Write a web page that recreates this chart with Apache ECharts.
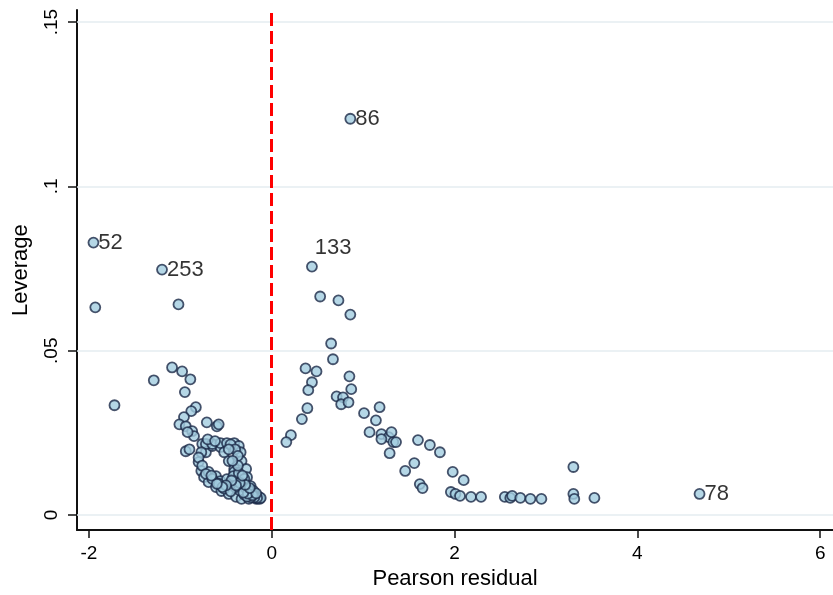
<!DOCTYPE html>
<html>
<head>
<meta charset="utf-8">
<script src="https://cdn.jsdelivr.net/npm/echarts@6/dist/echarts.min.js"></script>
<style>html,body{margin:0;padding:0;background:#fff}#c{width:833px;height:595px}</style>
</head>
<body>
<div id="c"></div>
<script>
// Pearson residuals (x) and leverage (y) for unlabeled observations
var pearsonResidual = [
  -1.93,-1.02,-1.72,-1.29,-1.09,-0.98,-0.89,-0.95,-0.83,-0.88,-0.96,-1.01,-0.94,-0.87,-0.85,-0.71,-0.60,
  -0.94,-0.76,-0.72,-0.65,-0.56,-0.58,-0.92,-0.90,
  -0.72,-0.65,-0.56,-0.49,-0.41,-0.36,-0.77,-0.80,-0.77,-0.74,-0.69,-0.61,-0.55,-0.47,-0.39,-0.33,-0.25,-0.17,-0.14,
  -0.34,-0.33,-0.28,-0.27,-0.23,-0.20,-0.52,-0.47,-0.41,-0.38,-0.34,-0.31,-0.69,-0.61,-0.56,-0.49,-0.41,
  -0.25,-0.20,-0.30,-0.35,-0.40,-0.45,-0.22,-0.28,-0.33,-0.38,-0.42,-0.36,-0.30,-0.25,-0.18,-0.15,-0.13,
  -0.70,-0.62,-0.45,-0.40,-0.37,-0.80,-0.76,-0.72,-0.65,-0.58,-0.52,-0.45,
  -0.12,-0.16,-0.19,-0.23,-0.27,-0.21,-0.26,-0.31,-0.17,-0.24,-0.29,-0.35,-0.39,-0.32,-0.44,-0.50,-0.54,-0.60,-0.66,-0.47,-0.37,-0.43,
  0.53,0.73,0.86,0.65,0.67,0.37,0.49,0.44,0.40,0.85,0.87,0.71,0.78,0.76,0.84,0.39,0.33,0.21,0.16,
  1.01,1.18,1.14,1.07,1.20,1.28,1.20,1.33,1.29,1.31,1.36,
  1.60,1.73,1.84,1.56,1.46,1.62,1.65,1.98,2.10,1.96,2.01,2.06,2.18,2.29,
  2.55,2.61,2.63,2.72,2.83,2.95,3.30,3.30,3.31,3.53
];
var leverage = [
  0.0632,0.0641,0.0334,0.0410,0.0449,0.0437,0.0413,0.0374,0.0328,0.0316,0.0298,0.0276,0.0270,0.0255,0.0240,0.0282,0.0270,
  0.0194,0.0216,0.0191,0.0210,0.0207,0.0276,0.0252,0.0200,
  0.0216,0.0216,0.0219,0.0219,0.0219,0.0210,0.0191,0.0161,0.0134,0.0115,0.0100,0.0085,0.0073,0.0064,0.0055,0.0049,0.0049,0.0049,0.0055,
  0.0191,0.0164,0.0140,0.0115,0.0088,0.0073,0.0191,0.0164,0.0140,0.0115,0.0088,0.0070,0.0131,0.0118,0.0103,0.0109,0.0131,
  0.0060,0.0058,0.0062,0.0075,0.0085,0.0095,0.0065,0.0080,0.0100,0.0105,0.0118,0.0128,0.0110,0.0075,0.0058,0.0050,0.0049,
  0.0230,0.0225,0.0215,0.0200,0.0180,0.0175,0.0150,0.0125,0.0110,0.0095,0.0080,0.0072,
  0.0052,0.0052,0.0054,0.0054,0.0056,0.0060,0.0065,0.0068,0.0066,0.0082,0.0092,0.0098,0.0090,0.0120,0.0105,0.0090,0.0085,0.0095,0.0120,0.0200,0.0150,0.0165,
  0.0665,0.0653,0.0610,0.0522,0.0474,0.0446,0.0437,0.0404,0.0380,0.0422,0.0383,0.0361,0.0358,0.0337,0.0343,0.0325,0.0292,0.0243,0.0222,
  0.0310,0.0328,0.0288,0.0252,0.0246,0.0237,0.0231,0.0222,0.0188,0.0252,0.0222,
  0.0228,0.0213,0.0191,0.0158,0.0134,0.0094,0.0082,0.0131,0.0106,0.0070,0.0064,0.0058,0.0055,0.0055,
  0.0055,0.0052,0.0058,0.0052,0.0049,0.0049,0.0146,0.0064,0.0049,0.0052
];
// labelled observations
var labelIds = ['86','52','253','133','78'];
var labelResidual = [0.86,-1.95,-1.20,0.44,4.68];
var labelLeverage = [0.1206,0.0829,0.0747,0.0756,0.0064];
// ticks
var xTickValues = [-2,0,2,4,6];
var xTickLabels = ['-2','0','2','4','6'];
var yTickValues = [0,0.05,0.1,0.15];
var yTickLabels = ['0','.05','.1','.15'];
var refLineX = 0;

var FONT = 'Liberation Sans, Arial, sans-serif';
var pts = pearsonResidual.map(function(x,i){return [x, leverage[i]];});
var lab = labelResidual.map(function(x,i){
  var d = {value:[x, labelLeverage[i]], name: labelIds[i]};
  if (labelIds[i] === '133') d.label = {position:'right', offset:[-2,-19]};
  return d;
});
var markerStyle = {color:'#a2cde0', borderColor:'#1b2947', borderWidth:1.8};

var chart = echarts.init(document.getElementById('c'), null, {renderer:'canvas'});
chart.setOption({
  animation:false,
  backgroundColor:'#ffffff',
  grid:{left:77, right:0, top:10, bottom:64},
  xAxis:{
    type:'value', min:-2.13, max:6.14,
    name:'Pearson residual', nameLocation:'middle', nameGap:36,
    nameTextStyle:{fontFamily:FONT, fontSize:22, color:'#000'},
    axisLine:{show:true, onZero:false, lineStyle:{color:'#111', width:2}},
    axisTick:{show:true, length:8, lineStyle:{color:'#111', width:1.5}, customValues:xTickValues},
    axisLabel:{fontFamily:FONT, fontSize:19, color:'#000', margin:14, customValues:xTickValues,
      formatter:function(v){var i=xTickValues.indexOf(v);return i>=0?xTickLabels[i]:'';}},
    splitLine:{show:false}
  },
  yAxis:{
    type:'value', min:-0.0046, max:0.1537,
    name:'Leverage', nameLocation:'middle', nameGap:45, nameRotate:90,
    nameTextStyle:{fontFamily:FONT, fontSize:22, color:'#000'},
    axisLine:{show:true, onZero:false, lineStyle:{color:'#111', width:2}},
    axisTick:{show:true, length:9, lineStyle:{color:'#111', width:1.5}, customValues:yTickValues},
    axisLabel:{fontFamily:FONT, fontSize:19, color:'#000', margin:16, rotate:90, customValues:yTickValues,
      formatter:function(v){for(var i=0;i<yTickValues.length;i++){if(Math.abs(yTickValues[i]-v)<1e-9)return yTickLabels[i];}return '';}},
    splitLine:{show:false}
  },
  series:[
    {
      type:'scatter', data:[], z:1, silent:true,
      markLine:{silent:true, symbol:['none','none'], label:{show:false},
        lineStyle:{color:'#e4edf1', width:1.5, type:'solid'},
        data:yTickValues.map(function(v){return {yAxis:v};})}
    },
    {
      type:'scatter', data:pts, symbol:'circle', symbolSize:10, z:3,
      itemStyle:markerStyle
    },
    {
      type:'scatter', data:lab, symbol:'circle', symbolSize:10, z:4,
      itemStyle:markerStyle,
      label:{show:true, position:'right', distance:-1, formatter:'{b}',
        fontFamily:FONT, fontSize:22, color:'#000'}
    },
    {
      type:'scatter', data:[], z:5, silent:true,
      markLine:{silent:true, symbol:['none','none'], label:{show:false},
        lineStyle:{color:'#ff0000', width:3, type:[13,5]},
        data:[{xAxis:refLineX}]}
    }
  ]
});
</script>
</body>
</html>
